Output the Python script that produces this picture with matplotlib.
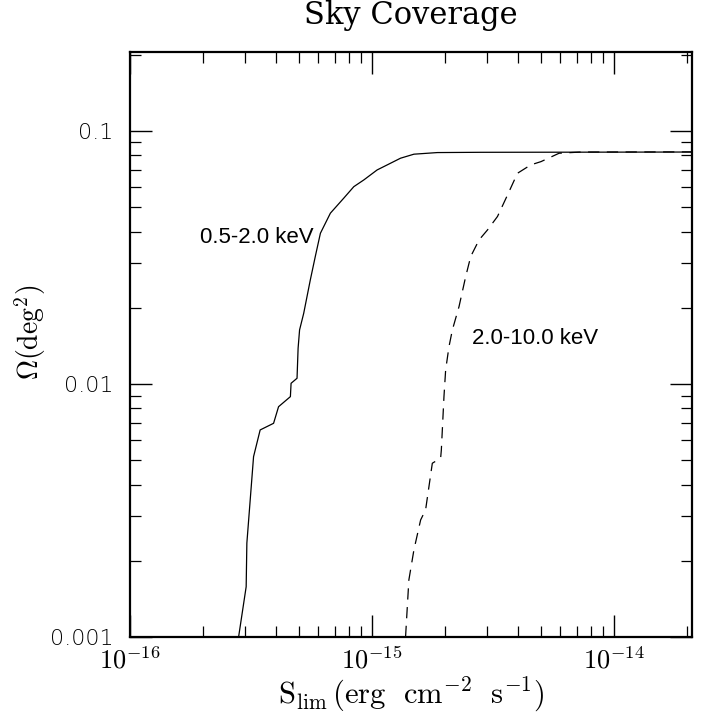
import matplotlib
matplotlib.use("Agg")
import matplotlib.pyplot as plt
from matplotlib.ticker import LogLocator, FixedLocator, NullFormatter, FixedFormatter

plt.rcParams['mathtext.fontset'] = 'cm'

# 0.5-2.0 keV (solid)
soft_s = [2.81e-16, 3.02e-16, 3.04e-16, 3.24e-16, 3.45e-16, 3.92e-16, 4.11e-16, 4.60e-16,
          4.63e-16, 4.90e-16, 4.95e-16, 5.02e-16, 5.22e-16, 5.56e-16, 5.83e-16, 6.12e-16,
          6.73e-16, 7.64e-16, 8.41e-16, 9.25e-16, 1.05e-15, 1.156e-15, 1.312e-15, 1.49e-15,
          1.862e-15, 2.81e-15, 2.1e-14]
soft_om = [0.001, 0.00158, 0.00235, 0.00516, 0.00658, 0.00699, 0.00813, 0.00891,
           0.01006, 0.01053, 0.01384, 0.01635, 0.0190, 0.02577, 0.0319, 0.0394,
           0.0473, 0.0542, 0.0602, 0.0640, 0.0701, 0.0734, 0.0780, 0.0809,
           0.0821, 0.0823, 0.0825]

# 2.0-10.0 keV (dashed)
hard_s = [1.376e-15, 1.42e-15, 1.49e-15, 1.588e-15, 1.665e-15, 1.775e-15, 1.921e-15, 1.934e-15,
          1.983e-15, 2.015e-15, 2.08e-15, 2.148e-15, 2.288e-15, 2.438e-15, 2.558e-15, 2.77e-15,
          3.0e-15, 3.30e-15, 3.63e-15, 3.99e-15, 4.53e-15, 4.99e-15, 5.93e-15, 7.3e-15, 2.1e-14]
hard_om = [0.001, 0.00168, 0.00221, 0.0029, 0.00318, 0.00486, 0.00509, 0.00548,
           0.00891, 0.01136, 0.01404, 0.01635, 0.0202, 0.02655, 0.0319, 0.0371,
           0.0406, 0.0459, 0.0558, 0.0680, 0.0734, 0.0756, 0.0816, 0.0825, 0.0826]

x_ticks = [1e-16, 1e-15, 1e-14]
x_labels = [r'$10^{-16}$', r'$10^{-15}$', r'$10^{-14}$']
y_ticks = [0.001, 0.01, 0.1]
y_labels = ['0.001', '0.01', '0.1']

fig = plt.figure(figsize=(7.07, 7.22), dpi=100)
ax = fig.add_axes([130/707, 1 - 637/722, (692-130)/707, (637-52)/722])

ax.plot(soft_s, soft_om, color='black', lw=0.9)
ax.plot(hard_s, hard_om, color='black', lw=0.9, dashes=(9, 6))

ax.set_xscale('log')
ax.set_yscale('log')
ax.set_xlim(1e-16, 2.1e-14)
ax.set_ylim(0.001, 0.205)

ax.xaxis.set_major_locator(FixedLocator(x_ticks))
ax.xaxis.set_major_formatter(FixedFormatter(x_labels))
ax.yaxis.set_major_locator(FixedLocator(y_ticks))
ax.yaxis.set_major_formatter(FixedFormatter(y_labels))
ax.xaxis.set_minor_locator(LogLocator(base=10, subs=range(2, 10)))
ax.yaxis.set_minor_locator(LogLocator(base=10, subs=range(2, 10)))
ax.xaxis.set_minor_formatter(NullFormatter())
ax.yaxis.set_minor_formatter(NullFormatter())

ax.tick_params(which='both', direction='in', top=True, right=True, color='black')
ax.tick_params(which='major', length=16, width=1.0)
ax.tick_params(which='minor', length=8, width=0.9)
ax.tick_params(axis='x', which='major', labelsize=19, pad=8)
ax.tick_params(axis='y', which='major', labelsize=16, pad=12)
for lab in ax.get_yticklabels():
    lab.set_family('DejaVu Sans')
    lab.set_fontweight('light')
for sp in ax.spines.values():
    sp.set_linewidth(1.6)

ax.set_title('Sky Coverage', fontsize=22, family='DejaVu Serif', pad=20)
ax.set_xlabel(r'$\mathrm{S_{lim}\,(erg\ \ cm^{-2}\ \ s^{-1})}$', fontsize=22, labelpad=0)
ax.set_ylabel(r'$\Omega(\mathrm{deg}^2)$', fontsize=20, va='center')
ax.yaxis.set_label_coords(-0.178, 0.52)

ax.text(1.95e-16, 0.0378, '0.5-2.0 keV', fontsize=16, family='Liberation Sans', ha='left', va='center')
ax.text(2.58e-15, 0.0151, '2.0-10.0 keV', fontsize=16, family='Liberation Sans', ha='left', va='center')

fig.savefig('out.png', dpi=100)
